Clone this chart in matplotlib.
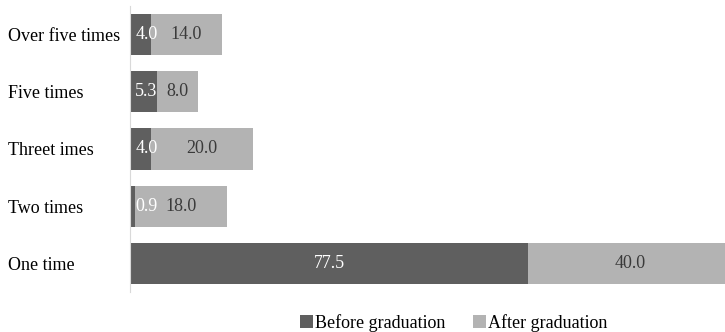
import numpy as np
import matplotlib.pyplot as plt

plt.rcParams['font.family'] = ['Liberation Serif', 'DejaVu Serif']

categories = ['Over five times', 'Five times', 'Threet imes', 'Two times', 'One time']
before = [4.0, 5.3, 4.0, 0.9, 77.5]
after = [14.0, 8.0, 20.0, 18.0, 40.0]

dark = '#5f5f5f'
light = '#b3b3b3'
fs = 13

fig = plt.figure(figsize=(7.25, 3.32), dpi=100)
ax = fig.add_axes([130 / 725, 40 / 332, (725 - 130) / 725, 286 / 332])

y = np.arange(len(categories))
h = 0.72
ax.barh(y, before, height=h, color=dark, label='Before graduation')
ax.barh(y, after, left=before, height=h, color=light, label='After graduation')

# value labels, pushed in from the axis when the segment is too narrow
for i in range(len(categories)):
    bx = max(before[i] / 2, 3.2)
    ax.text(bx, y[i], f'{before[i]:.1f}', ha='center', va='center',
            color='white', fontsize=fs)
    ax.text(before[i] + after[i] / 2, y[i], f'{after[i]:.1f}', ha='center',
            va='center', color='#3a3a3a', fontsize=fs)

ax.set_yticks(y)
ax.set_yticklabels(categories, fontsize=fs, ha='left')
ax.set_ylim(len(categories) - 0.5, -0.5)
ax.set_xlim(0, (725 - 130) / 5.135)
ax.tick_params(axis='y', length=0, pad=(130 - 8) * 0.72)
ax.set_xticks([])
for s in ['top', 'right', 'bottom']:
    ax.spines[s].set_visible(False)
ax.spines['left'].set_color('#d9d9d9')

fig.legend(loc='center', bbox_to_anchor=(0.626, 0.028), ncol=2,
           frameon=False, fontsize=fs, handlelength=0.7, handleheight=0.7,
           handletextpad=0.15, columnspacing=1.5)

fig.savefig('out.png', dpi=100)
